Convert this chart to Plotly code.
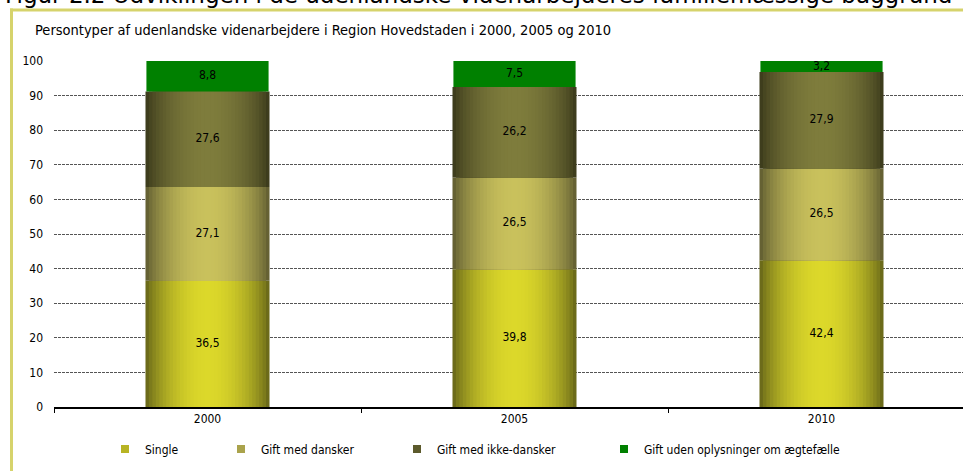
import plotly.graph_objects as go
import numpy as np

# ---- data ----
years = ["2000", "2005", "2010"]
series_names = ["Single", "Gift med dansker", "Gift med ikke-dansker",
                "Gift uden oplysninger om ægtefælle"]
single = [36.5, 39.8, 42.4]
gift_dansker = [27.1, 26.5, 26.5]
gift_ikke_dansker = [27.6, 26.2, 27.9]
gift_uden = [8.8, 7.5, 3.2]
y_ticks = [0, 10, 20, 30, 40, 50, 60, 70, 80, 90, 100]

series_values = [single, gift_dansker, gift_ikke_dansker, gift_uden]

# ---- styles ----
edge_cols = [(0x5e, 0x5d, 0x18), (0x58, 0x55, 0x2e), (0x36, 0x35, 0x19), None]
mid_cols = [(0xdc, 0xd8, 0x2a), (0xc9, 0xc1, 0x5c), (0x7e, 0x7c, 0x3c), None]
legend_cols = ["#b8b424", "#aaa34c", "#5c5a2c", "#008000"]
green = "#008000"
FONT = "DejaVu Sans Condensed"
BAR_W = 0.404
N_LAYERS = 18


def mix(a, b, f):
    return "rgb({},{},{})".format(*[int(round(a[i] + (b[i] - a[i]) * f)) for i in range(3)])


fig = go.Figure()

bases = np.zeros(len(years))
for s, vals in enumerate(series_values):
    vals = np.array(vals)
    if edge_cols[s] is None:
        fig.add_trace(go.Bar(x=years, y=vals, base=bases, width=BAR_W * 0.985,
                             marker=dict(color=green, line=dict(width=0)),
                             showlegend=False, hoverinfo="skip"))
    else:
        for k in range(N_LAYERS):
            w = BAR_W * (N_LAYERS - k) / N_LAYERS
            t = (N_LAYERS - k - 0.5) / N_LAYERS
            f = np.cos(t * np.pi / 2) ** 0.7
            fig.add_trace(go.Bar(x=years, y=vals, base=bases, width=w,
                                 marker=dict(color=mix(edge_cols[s], mid_cols[s], f),
                                             line=dict(width=0)),
                                 showlegend=False, hoverinfo="skip"))
    # value labels
    fig.add_trace(go.Scatter(x=years, y=bases + vals / 2, mode="text",
                             text=[f"{v:.1f}".replace(".", ",") for v in vals],
                             textfont=dict(family=FONT, size=12, color="black"),
                             showlegend=False, hoverinfo="skip", cliponaxis=False))
    bases = bases + vals

# legend entries
legend_ids = ["legend", "legend2", "legend3", "legend4"]
legend_x_px = [105, 221, 397, 604]
for s, name in enumerate(series_names):
    fig.add_trace(go.Scatter(x=[None], y=[None], mode="markers", name=name,
                             marker=dict(symbol="square", size=8, color=legend_cols[s]),
                             legend=legend_ids[s], showlegend=True))

L, T, B = 54, 61, 64
PW, PH = 963 - L, 471 - T - B


def px_x(p):
    return (p - L) / PW


def px_y(p):
    return (471 - B - p) / PH


legend_layouts = {}
for s, lid in enumerate(legend_ids):
    legend_layouts[lid] = dict(orientation="h", x=px_x(legend_x_px[s]), xanchor="left",
                               y=px_y(449), yanchor="middle",
                               font=dict(family=FONT, size=12, color="black"),
                               bgcolor="rgba(0,0,0,0)", itemwidth=30)

frame_col = "#d6d36c"
fig.update_layout(
    width=963, height=471,
    margin=dict(l=L, r=0, t=T, b=B, autoexpand=False),
    paper_bgcolor="white", plot_bgcolor="white",
    barmode="overlay",
    separators=",.",
    xaxis=dict(type="category", range=[-0.5, -0.5 + PW / 307.0],
               showline=True, linecolor="black", linewidth=2,
               ticks="outside", tickson="boundaries", ticklen=4, tickcolor="black",
               showgrid=False, zeroline=False, automargin=False,
               tickfont=dict(family=FONT, size=12, color="black")),
    yaxis=dict(range=[0, 100], tickvals=y_ticks, showline=False,
               showgrid=True, gridcolor="#555555", gridwidth=1, griddash="3px,1px",
               zeroline=False, ticks="", ticklabelstandoff=10, automargin=False,
               tickfont=dict(family=FONT, size=12, color="black")),
    annotations=[
        dict(text="Figur 2.2 Udviklingen i de udenlandske videnarbejderes familiemæssige baggrund",
             xref="paper", yref="paper", x=px_x(3), y=px_y(10),
             xanchor="left", yanchor="bottom", showarrow=False,
             font=dict(family="DejaVu Sans", size=23, color="black")),
        dict(text="Persontyper af udenlandske videnarbejdere i Region Hovedstaden i 2000, 2005 og 2010",
             xref="paper", yref="paper", x=px_x(33), y=px_y(30),
             xanchor="left", yanchor="middle", showarrow=False,
             font=dict(family=FONT, size=14.5, color="black"))],
    shapes=[dict(type="line", xref="paper", yref="paper",
                 x0=px_x(11.5), x1=px_x(11.5), y0=px_y(8.5), y1=px_y(480),
                 line=dict(color=frame_col, width=3)),
            dict(type="line", xref="paper", yref="paper",
                 x0=px_x(10), x1=px_x(975), y0=px_y(10), y1=px_y(10),
                 line=dict(color=frame_col, width=3))],
    **legend_layouts,
)

fig.write_html("out.html", config={"displayModeBar": False},
               post_script="document.body.style.margin='0';document.body.style.overflow='hidden';")
